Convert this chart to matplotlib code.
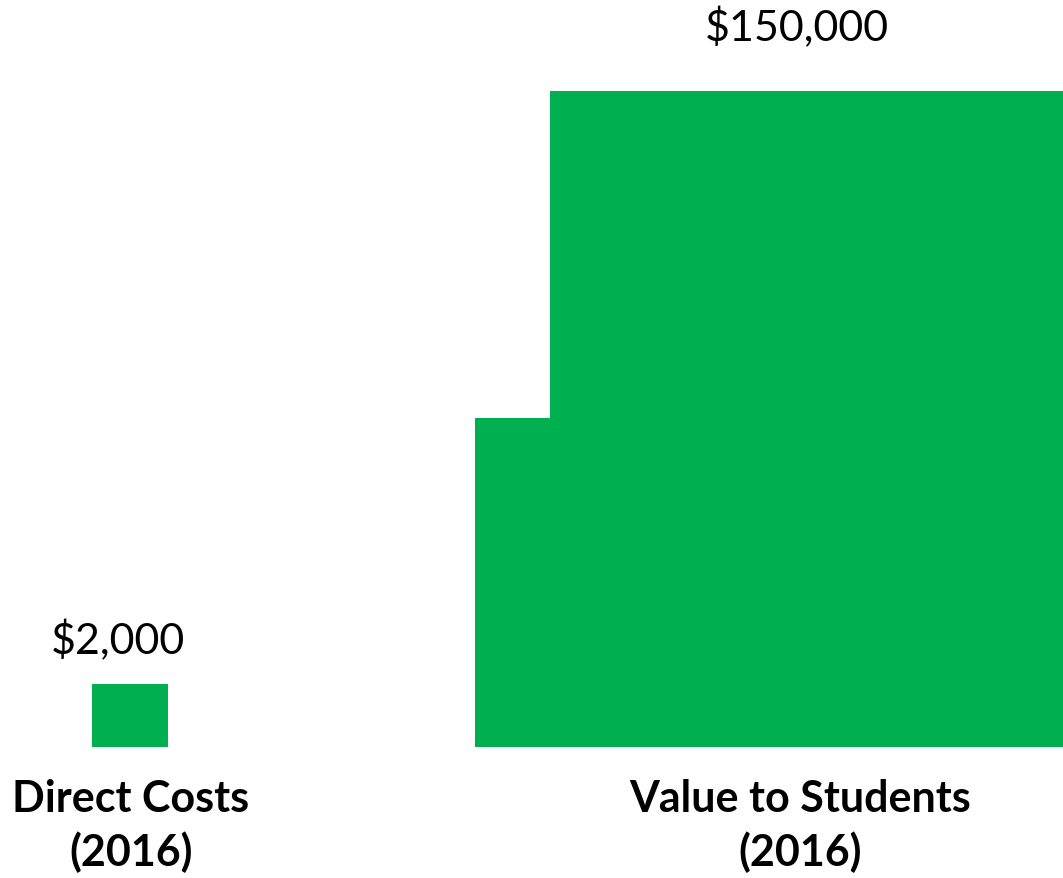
import matplotlib
matplotlib.use("Agg")
import matplotlib.pyplot as plt

# data
categories = ["Direct Costs\n(2016)", "Value to Students\n(2016)"]
values = [2000, 150000]
value_labels = ["$2,000", "$150,000"]

GREEN = "#00B050"
W, H = 1063, 879

# layout in pixel units (y measured from the bottom)
BASE = H - 748
SMALL_X, SMALL_W = 92, 76
BIG_X, BIG_W = 550, 513          # main block
STEP_X, STEP_W = 475, 75         # lower step on its left
STEP_FRAC = 0.502                # step height as a share of the main block

# area per dollar, so that the $150,000 shape fills its slot
unit_area = 656 * (BIG_W + STEP_W * STEP_FRAC) / values[1]

fig = plt.figure(figsize=(W / 100, H / 100), dpi=100)
ax = fig.add_axes([0, 0, 1, 1])
ax.set_xlim(0, W)
ax.set_ylim(0, H)
ax.axis("off")

# small square
small_h = values[0] * unit_area / SMALL_W
ax.bar(SMALL_X, small_h, width=SMALL_W, bottom=BASE, align="edge",
       color=GREEN, linewidth=0)

# big stepped shape
big_h = values[1] * unit_area / (BIG_W + STEP_W * STEP_FRAC)
ax.bar([BIG_X, STEP_X], [big_h, big_h * STEP_FRAC], width=[BIG_W, STEP_W],
       bottom=BASE, align="edge", color=GREEN, linewidth=0)

font = "Lato"
ax.text(118, H - 641, value_labels[0], ha="center", va="center",
        fontsize=31, family=font, color="black")
ax.text(797, H - 28, value_labels[1], ha="center", va="center",
        fontsize=31, family=font, color="black")

ax.text(131, H - 826, categories[0], ha="center", va="center",
        fontsize=31, fontweight="bold", family=font, linespacing=1.35)
ax.text(800, H - 826, categories[1], ha="center", va="center",
        fontsize=31, fontweight="bold", family=font, linespacing=1.35)

fig.savefig("out.png", dpi=100, facecolor="white")
